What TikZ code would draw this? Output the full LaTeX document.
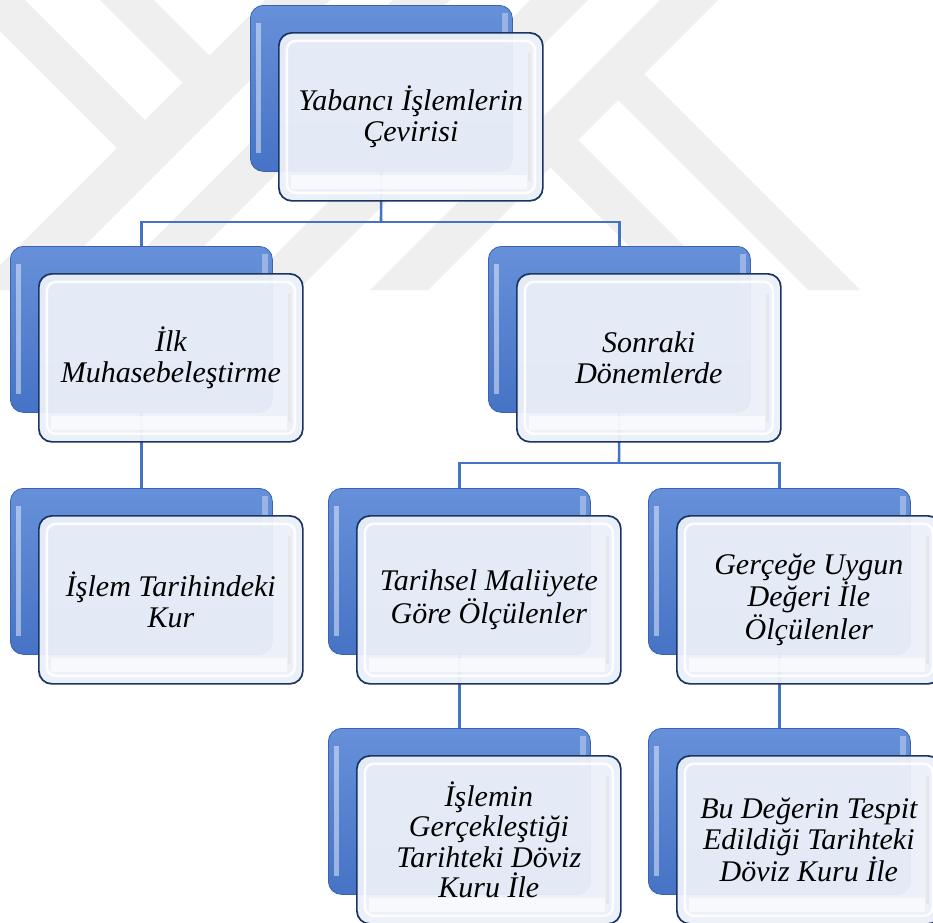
\documentclass[tikz,border=0pt]{standalone}
\usepackage{fontspec}
\setmainfont{Liberation Serif}
\newfontfamily\tnritalic{Liberation Serif Italic}
\definecolor{connblue}{HTML}{4472C4}
\definecolor{bluetop}{HTML}{6690D9}
\definecolor{bluebot}{HTML}{4673C5}
\definecolor{blueedge}{HTML}{3A64B0}
\definecolor{navy}{HTML}{1A3562}
\definecolor{frontfill}{HTML}{ECF1F9}
\definecolor{wm}{HTML}{EFEFEF}
\begin{document}
\begin{tikzpicture}[x=1pt,y=-1pt,
  conn/.style={draw=connblue,line width=2.6pt},
  wmark/.style={fill=wm,draw=none},
  bluebox/.style={rectangle,rounded corners=13pt,draw=blueedge,line width=0.8pt,
    top color=bluetop,bottom color=bluebot,minimum width=262pt,minimum height=166pt,
    inner sep=0pt,anchor=north west,
    path picture={
      \fill[white,opacity=.45,sharp corners]
        ([xshift=6pt,yshift=-18pt]path picture bounding box.north west) rectangle
        ([xshift=11pt,yshift=18pt]path picture bounding box.south west);
      \fill[white,opacity=.35,sharp corners]
        ([xshift=-10pt,yshift=-8pt]path picture bounding box.north east) rectangle
        ([xshift=-4pt,yshift=-40pt]path picture bounding box.north east);
    }},
  frontbox/.style={rectangle,rounded corners=13pt,draw=navy,line width=1.7pt,
    fill=frontfill,fill opacity=.95,text opacity=1,minimum width=264pt,minimum height=168pt,
    inner sep=0pt,anchor=north west,align=center,
    font=\tnritalic\fontsize{30pt}{30.5pt}\selectfont,
    path picture={
      \draw[white,line width=2.5pt,opacity=.9,rounded corners=9pt]
        ([xshift=8pt,yshift=-8pt]path picture bounding box.north west) rectangle
        ([xshift=-8pt,yshift=8pt]path picture bounding box.south east);
      \draw[black!10,line width=3pt,opacity=.8,sharp corners]
        ([xshift=-13pt,yshift=-20pt]path picture bounding box.north east) --
        ([xshift=-13pt,yshift=20pt]path picture bounding box.south east);
      \fill[white,opacity=.6,sharp corners]
        ([xshift=12pt,yshift=12pt]path picture bounding box.south west) rectangle
        ([xshift=-16pt,yshift=26pt]path picture bounding box.south east);
    }}
]
\useasboundingbox (0,0) rectangle (933,922);
\clip (0,0) rectangle (933,922);
\fill[white] (0,0) rectangle (933,922);

% watermark
\fill[wmark] (265,0) -- (330,0) -- (40,290) -- (-25,290) -- cycle;
\fill[wmark] (-31,0) -- (25,0) -- (145,120) -- (117,148) -- cycle;
\fill[wmark] (100,0) -- (154,0) -- (209.5,55.5) -- (182.5,82.5) -- cycle;
\fill[wmark] (393,0) -- (450,0) -- (160,290) -- (103,290) -- cycle;
\fill[wmark] (530,0) -- (588,0) -- (298,290) -- (240,290) -- cycle;
\fill[wmark] (660,0) -- (718,0) -- (428,290) -- (370,290) -- cycle;
\fill[wmark] (644,74) -- (860,290) -- (808,290) -- (618,100) -- cycle;
\fill[wmark] (578,140) -- (728,290) -- (673,290) -- (550.5,167.5) -- cycle;

% back boxes
\node[bluebox] (b1) at (250,5) {};
\node[bluebox] (b2) at (10,246) {};
\node[bluebox] (b3) at (488,246) {};
\node[bluebox] (b4) at (10,488) {};
\node[bluebox] (b5) at (328,488) {};
\node[bluebox] (b6) at (648,488) {};
\node[bluebox] (b7) at (328,728) {};
\node[bluebox] (b8) at (648,728) {};

% connectors
\coordinate (j1) at (381,222);
\coordinate (j2) at (619,463);
\draw[conn] (b1.south) -- (j1);
\draw[conn] (b2.north) |- (j1) -| (b3.north);
\draw[conn] (b2.south) -- (b4.north);
\draw[conn] (b3.south) -- (j2);
\draw[conn] (b5.north) |- (j2) -| (b6.north);
\draw[conn] (b5.south) -- (b7.north);
\draw[conn] (b6.south) -- (b8.north);

% front boxes
\node[frontbox] (f1) at (278,32) {Yabancı İşlemlerin\\Çevirisi};
\node[frontbox] (f2) at (38,273) {İlk\\Muhasebeleştirme};
\node[frontbox] (f3) at (516,273) {Sonraki\\Dönemlerde};
\node[frontbox] (f4) at (38,515) {İşlem Tarihindeki\\Kur};
\node[frontbox] (f5) at (356,515) {Tarihsel Maliiyete\\Göre Ölçülenler};
\node[frontbox] (f6) at (676,515) {Gerçeğe Uygun\\Değeri İle\\Ölçülenler};
\node[frontbox] (f7) at (356,755) {İşlemin\\Gerçekleştiği\\Tarihteki Döviz\\Kuru İle};
\node[frontbox] (f8) at (676,755) {Bu Değerin Tespit\\Edildiği Tarihteki\\Döviz Kuru İle};
\end{tikzpicture}
\end{document}
